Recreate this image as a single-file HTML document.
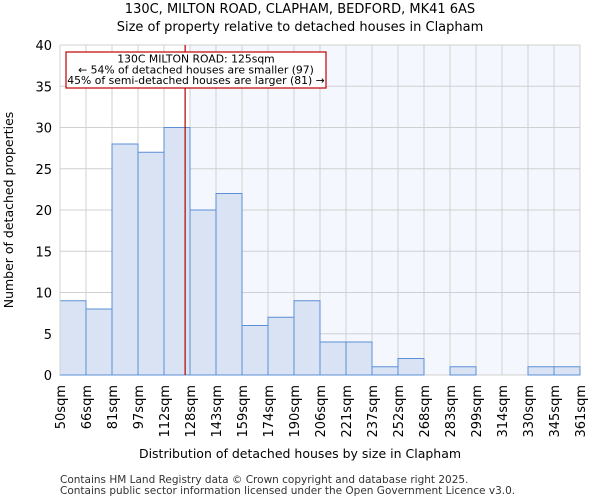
<!DOCTYPE html>
<html><head><meta charset="utf-8"><style>
body{margin:0;background:#fff;font-family:"DejaVu Sans","Liberation Sans",sans-serif}
svg text{font-family:"DejaVu Sans","Liberation Sans",sans-serif}
</style></head><body>
<svg id="c" width="600" height="500" xmlns="http://www.w3.org/2000/svg">
<text x="300" y="13" font-size="13" text-anchor="middle">130C, MILTON ROAD, CLAPHAM, BEDFORD, MK41 6AS</text>
<text x="300" y="31" font-size="13" text-anchor="middle">Size of property relative to detached houses in Clapham</text>
<g id="plot"></g>
<text x="300" y="458" font-size="12.5" text-anchor="middle">Distribution of detached houses by size in Clapham</text>
<text transform="translate(13,210) rotate(-90)" font-size="12.5" text-anchor="middle">Number of detached properties</text>
<text x="60" y="483" font-size="10.5" fill="#333">Contains HM Land Registry data © Crown copyright and database right 2025.</text>
<text x="60" y="494" font-size="10.5" fill="#333">Contains public sector information licensed under the Open Government Licence v3.0.</text>
</svg>
<script>
const categories=["50sqm","66sqm","81sqm","97sqm","112sqm","128sqm","143sqm","159sqm","174sqm","190sqm","206sqm","221sqm","237sqm","252sqm","268sqm","283sqm","299sqm","314sqm","330sqm","345sqm","361sqm"];
const counts=[9,8,28,27,30,20,22,6,7,9,4,4,1,2,0,1,0,0,1,1];
const yTicks=[0,5,10,15,20,25,30,35,40];
const propertySize=125;
const binEdges=[50,66,81,97,112,128,143,159,174,190,206,221,237,252,268,283,299,314,330,345,361];
const L=60,R=580,T=45,B=375,yMax=40;
const bw=(R-L)/counts.length;
const y=v=>B-(v/yMax)*(B-T);
const xi=i=>L+i*bw;
function xv(v){for(let i=0;i<binEdges.length-1;i++){if(v>=binEdges[i]&&v<=binEdges[i+1])return xi(i)+(v-binEdges[i])/(binEdges[i+1]-binEdges[i])*bw;}return L;}
const g=document.getElementById('plot');const NS="http://www.w3.org/2000/svg";
function mk(t,a){const e=document.createElementNS(NS,t);for(const k in a)e.setAttribute(k,a[k]);g.appendChild(e);return e;}
const px=xv(propertySize);
let shadeStart=L;for(let i=0;i<binEdges.length;i++){if(binEdges[i]>=propertySize){shadeStart=xi(i);break;}}
let sh=mk('rect',{x:shadeStart,y:T,width:R-shadeStart,height:B-T,fill:'#f4f7fd'});


for(let i=0;i<=counts.length;i++){let l=mk('line',{x1:xi(i),x2:xi(i),y1:T,y2:B,stroke:'#d0d0d0','stroke-width':1});

}
yTicks.forEach(t=>{let l=mk('line',{x1:L,x2:R,y1:y(t),y2:y(t),stroke:'#d0d0d0','stroke-width':1});


let tx=mk('text',{x:L-8,y:y(t)+5,'font-size':13,'text-anchor':'end'});tx.textContent=t;

});
counts.forEach((c,i)=>{if(c<=0)return;let r=mk('rect',{x:xi(i),y:y(c),width:bw,height:B-y(c),fill:'#dae3f3',stroke:'#5b8fd6','stroke-width':1});

});
categories.forEach((c,i)=>{let tx=mk('text',{transform:`translate(${xi(i)+5},${B+10}) rotate(-90)`,'font-size':13,'text-anchor':'end'});tx.textContent=c;

});
let ax=mk('line',{x1:L,x2:L,y1:T,y2:B,stroke:'#d0d0d0'});


let pl=mk('line',{x1:px,x2:px,y1:T,y2:B,stroke:'#b00000','stroke-width':1.2});


let bx=mk('rect',{x:66,y:52,width:260,height:36,fill:'#fff',stroke:'#c00000','stroke-width':1.2});


["130C MILTON ROAD: 125sqm","← 54% of detached houses are smaller (97)","45% of semi-detached houses are larger (81) →"].forEach((s,i)=>{let tx=mk('text',{x:196,y:62.5+i*10.8,'font-size':10.8,'text-anchor':'middle'});tx.textContent=s;

});
</script>
</body></html>
